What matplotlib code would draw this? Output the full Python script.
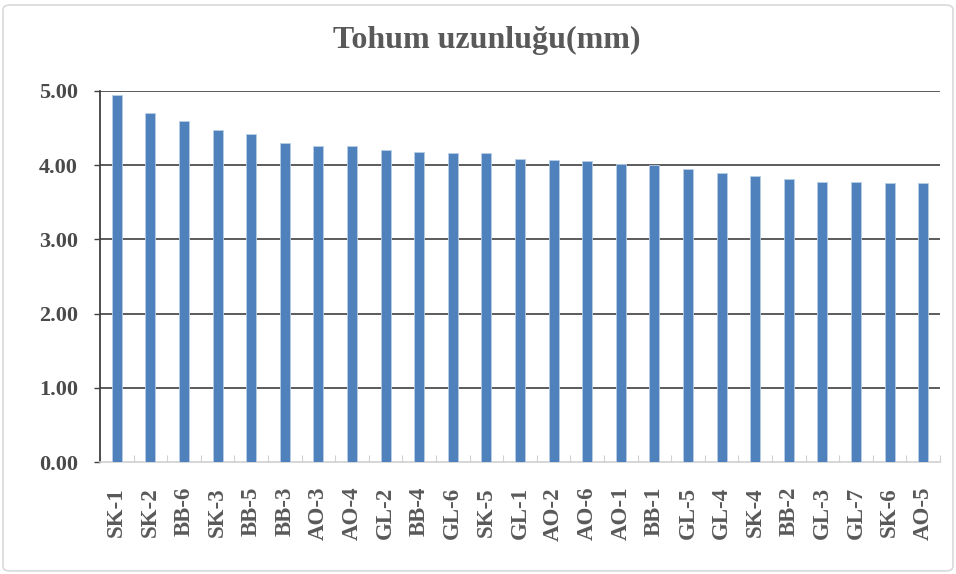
import matplotlib.pyplot as plt
import numpy as np
from matplotlib.patches import FancyBboxPatch

# seed length per genotype (mm)
genotypes = ["SK-1", "SK-2", "BB-6", "SK-3", "BB-5", "BB-3", "AO-3", "AO-4",
             "GL-2", "BB-4", "GL-6", "SK-5", "GL-1", "AO-2", "AO-6", "AO-1",
             "BB-1", "GL-5", "GL-4", "SK-4", "BB-2", "GL-3", "GL-7", "SK-6", "AO-5"]
lengths = [4.94, 4.70, 4.60, 4.48, 4.42, 4.30, 4.26, 4.26,
           4.21, 4.18, 4.16, 4.16, 4.09, 4.07, 4.06, 4.01,
           4.00, 3.95, 3.89, 3.85, 3.82, 3.78, 3.78, 3.76, 3.76]
yticks = [0.0, 1.0, 2.0, 3.0, 4.0, 5.0]
title = "Tohum uzunluğu(mm)"

plt.rcParams['font.family'] = ['Liberation Serif', 'DejaVu Serif']

fig = plt.figure(figsize=(9.56, 5.74), dpi=100)
ax = fig.add_axes([100 / 956, 1 - 462 / 574, 840 / 956, 371 / 574])

x = np.arange(len(genotypes))
ax.bar(x, lengths, width=0.3, color="#4F81BD", edgecolor="#B9CDE5",
       linewidth=0.6, zorder=3)

ax.set_xlim(-0.5, len(genotypes) - 0.5)
ax.set_ylim(0, 5)
ax.set_yticks(yticks)
ax.set_yticklabels([f"{v:.2f}" for v in yticks], fontsize=16,
                   fontweight="bold", color="#4A4A4A")
ax.set_xticks(x)
ax.set_xticklabels(genotypes, rotation=90, fontsize=16.5, fontweight="bold",
                   color="#595959")
ax.tick_params(axis="x", length=0, pad=18)
ax.tick_params(axis="y", length=4, width=1, color="#404040", pad=12)
ax.set_xticks(np.arange(-0.5, len(genotypes), 1), minor=True)
ax.tick_params(axis="x", which="minor", direction="in", length=5,
               color="#D0D0D0", width=0.8)

for v in yticks[1:]:
    ax.axhline(v, color="#404040", linewidth=1.2, zorder=1)

for s in ["top", "right"]:
    ax.spines[s].set_visible(False)
ax.spines["left"].set_color("#404040")
ax.spines["left"].set_linewidth(1.3)
ax.spines["bottom"].set_color("#D0D0D0")
ax.spines["bottom"].set_linewidth(1.2)

fig.text(487 / 956, 1 - 40 / 574, title, ha="center", va="center",
         fontsize=23, fontweight="bold", color="#595959")

border = FancyBboxPatch((3 / 956, 3 / 574), 950 / 956, 566 / 574,
                        boxstyle="round,pad=0,rounding_size=0.008",
                        transform=fig.transFigure, fill=False,
                        edgecolor="#D9D9D9", linewidth=1.2)
fig.patches.append(border)

fig.savefig("out.png", dpi=100)
